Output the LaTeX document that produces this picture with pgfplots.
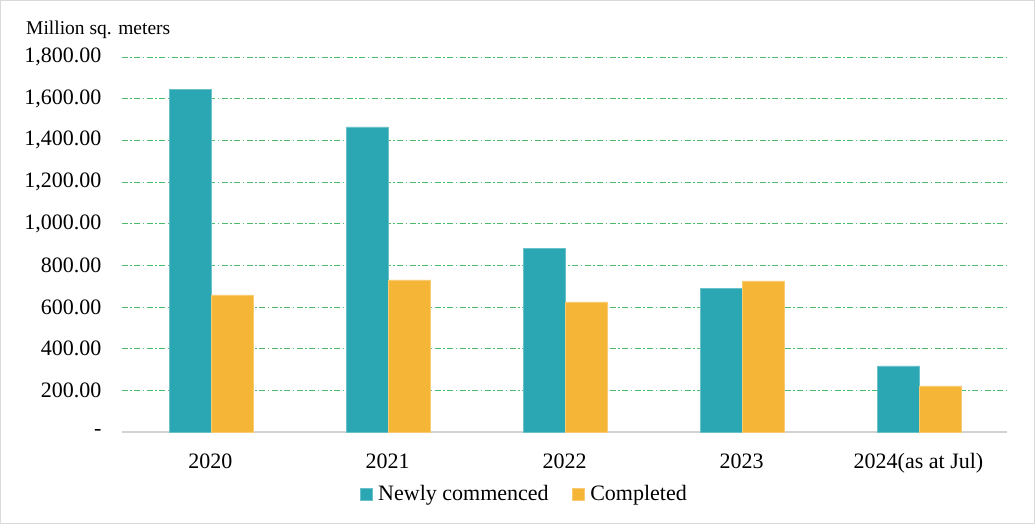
\documentclass[border=0pt]{standalone}
\usepackage{pgfplots}
\pgfplotsset{compat=1.18}
\usepackage{fontspec}
\setmainfont{Liberation Serif}
\definecolor{teal1}{HTML}{2BA6B3}
\definecolor{orange1}{HTML}{F5B537}
\definecolor{grid1}{HTML}{4CBB6C}
\begin{document}
\begin{tikzpicture}
\begin{axis}[
  scale only axis,
  width=885bp, height=375bp,
  xmin=-0.5, xmax=4.5,
  ymin=0, ymax=1800,
  ybar=0pt, bar width=42bp,
  xtick={0,1,2,3,4},
  xticklabels={2020,2021,2022,2023,2024(as at Jul)},
  ytick={0,200,400,600,800,1000,1200,1400,1600,1800},
  yticklabels={-,200.00,400.00,600.00,800.00,{1,000.00},{1,200.00},{1,400.00},{1,600.00},{1,800.00}},
  ticklabel style={font=\fontsize{22bp}{24bp}\selectfont},
  major tick length=0pt,
  axis x line*=bottom,
  axis y line*=left,
  x axis line style={-, draw=gray!35, line width=1.2bp},
  y axis line style={draw=none},
  ymajorgrids,
  grid style={grid1, line width=0.9bp, dash pattern=on 6bp off 2.5bp on 1.5bp off 2.5bp},
  yticklabel style={xshift=-17bp},
  xticklabel style={yshift=-18bp},
  legend style={draw=none, legend columns=2, at={(0.4545,-0.165)}, anchor=center,
    font=\fontsize{22bp}{24bp}\selectfont,
    /tikz/every even column/.append style={column sep=21bp}},
  legend image code/.code={\fill[#1] (0bp,-6bp) rectangle (12bp,6bp); \path (16bp,0bp);},
]
\addplot[fill=teal1, draw=teal1!70!white, line width=0.6bp, bar shift=-20bp] coordinates {(0,1646) (1,1464) (2,883) (3,691) (4,317)};
\addlegendentry{Newly commenced}
\addplot[fill=orange1, draw=orange1!70!white, line width=0.6bp, bar shift=22bp] coordinates {(0,658) (1,730) (2,624) (3,725) (4,221)};
\addlegendentry{Completed}
\end{axis}
\node[anchor=base west, font=\fontsize{19.5bp}{22bp}\selectfont, inner sep=0pt] at (-96bp,397bp) {Million sq. meters};
\draw[gray!30, line width=1bp] (-121.5bp,-91.5bp) rectangle (912.5bp,431.5bp);
\end{tikzpicture}
\end{document}
